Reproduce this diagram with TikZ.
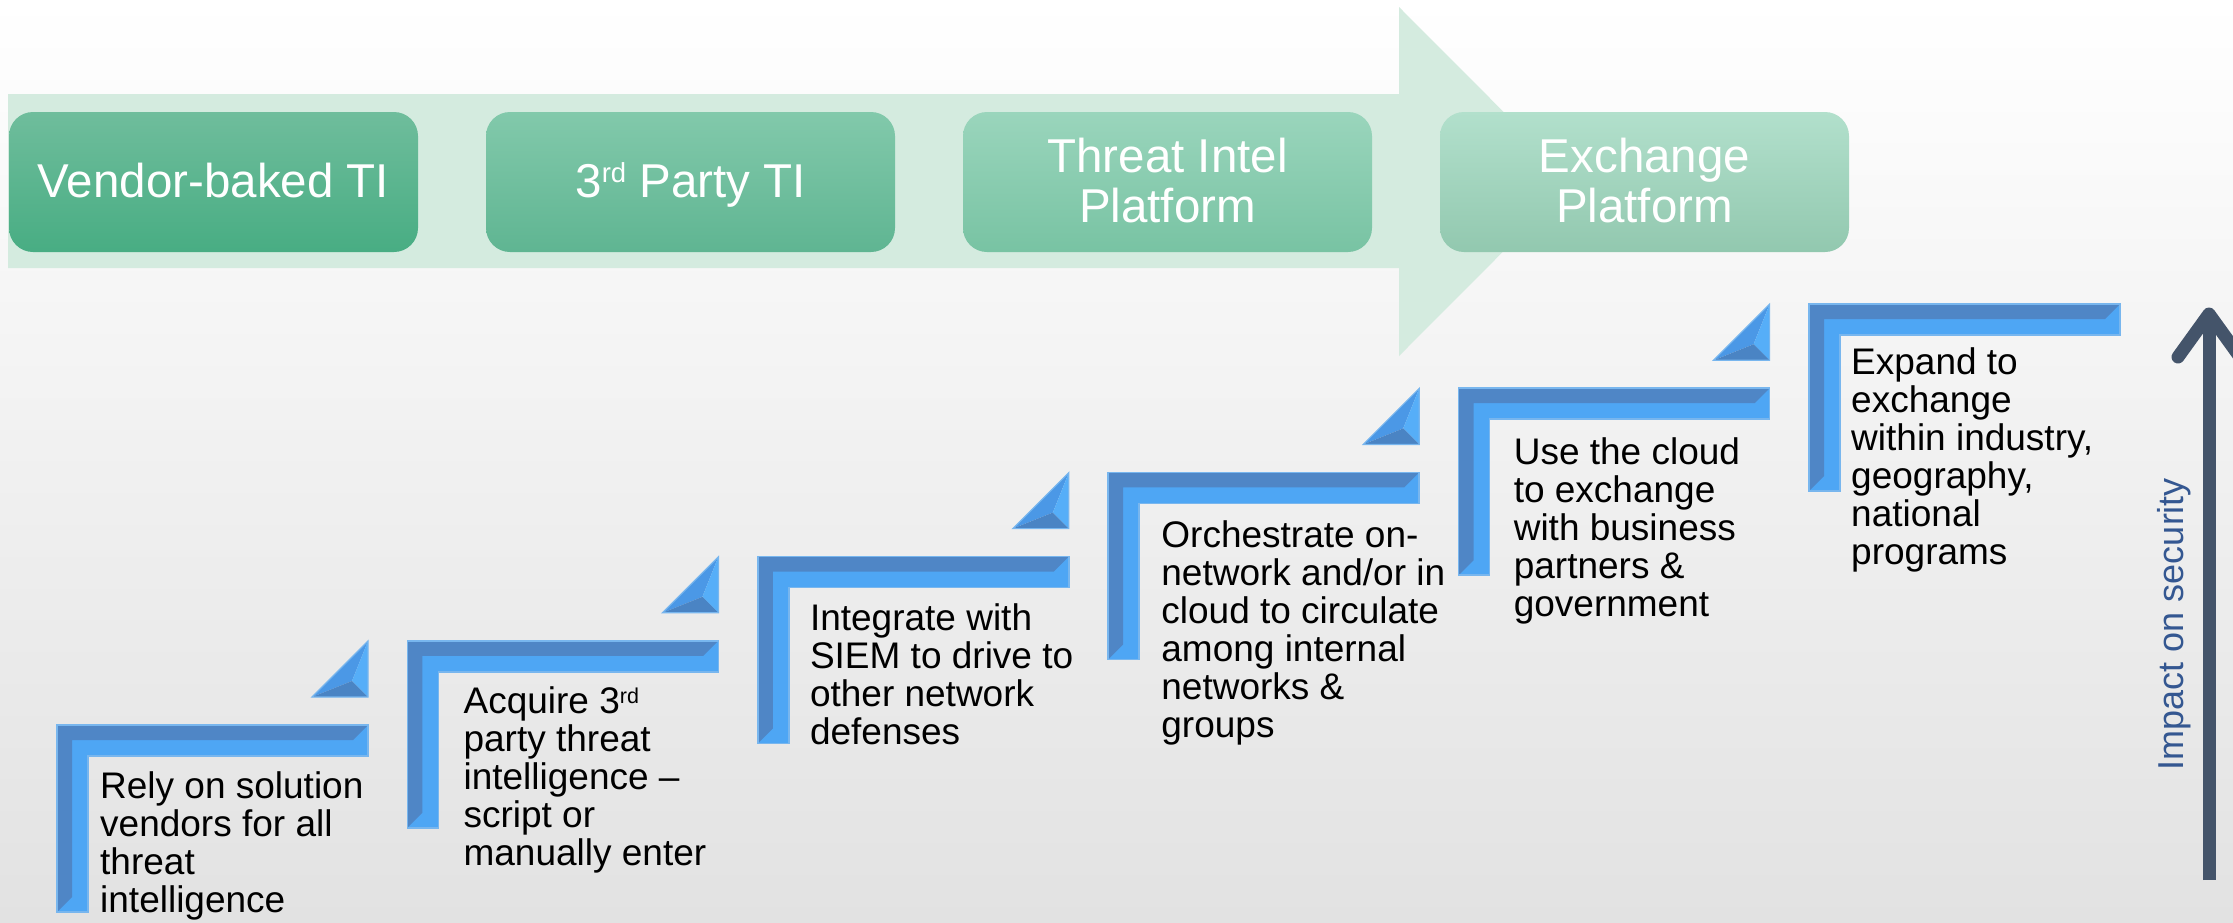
\documentclass[tikz,border=0pt]{standalone}
\usepackage{fontspec}
\setmainfont{Liberation Sans}
\definecolor{bgtop}{RGB}{255,255,255}
\definecolor{bgbot}{RGB}{226,226,226}
\definecolor{arrowfill}{RGB}{212,235,223}
\definecolor{b1top}{RGB}{111,189,156}
\definecolor{b1bot}{RGB}{72,173,131}
\definecolor{b2top}{RGB}{130,201,171}
\definecolor{b2bot}{RGB}{95,181,146}
\definecolor{b3top}{RGB}{154,213,188}
\definecolor{b3bot}{RGB}{120,195,163}
\definecolor{b4top}{RGB}{178,224,204}
\definecolor{b4bot}{RGB}{146,200,175}
\definecolor{Lbright}{RGB}{78,166,244}
\definecolor{Ldark}{RGB}{79,134,198}
\definecolor{Ledge}{RGB}{120,182,238}
\definecolor{tmid}{RGB}{75,152,230}
\definecolor{tbright}{RGB}{86,174,248}
\definecolor{tdark}{RGB}{74,132,196}
\definecolor{impcol}{RGB}{68,84,106}
\definecolor{imptext}{RGB}{52,87,145}
\tikzset{
  box/.style={rounded corners=24pt, minimum width=409pt, minimum height=140pt, inner sep=0pt},
  boxtext/.style={text=white, font=\fontsize{47.5}{50}\selectfont, align=center, anchor=base, inner sep=0pt},
  steptext/.style={text=black, font=\fontsize{37}{38}\selectfont, align=left, anchor=base west, inner sep=0pt},
  impactline/.style={draw=impcol, line width=13pt},
  stepL/.pic={
    \fill[Lbright] (0,0) -- (311,0) -- (311,31) -- (31,31) -- (31,187) -- (0,187) -- cycle;
    \fill[Ldark] (0,0) -- (311,0) -- (296,15) -- (15,15) -- (15,172) -- (0,187) -- cycle;
    \draw[Ledge, line width=1.5pt, line join=miter] (0,0) -- (311,0) -- (311,31) -- (31,31) -- (31,187) -- (0,187) -- cycle;
  },
  stepTri/.pic={
    \fill[tmid] (311,-84) -- (255,-28) -- (295,-44) -- cycle;
    \fill[tbright] (311,-84) -- (311,-28) -- (295,-44) -- cycle;
    \fill[tdark] (255,-28) -- (311,-28) -- (295,-44) -- cycle;
    \draw[Ledge, line width=1.2pt] (311,-84) -- (311,-28) -- (255,-28) -- cycle;
  },
}
\begin{document}
\begin{tikzpicture}[x=1pt, y=-1pt]
\useasboundingbox (0,0) rectangle (2233,922);
\shade[top color=bgtop, bottom color=bgbot] (0,0) rectangle (2233,922);
% big arrow
\fill[arrowfill] (8,94) -- (1399,94) -- (1399,7) -- (1573,181.5) -- (1399,356) -- (1399,268) -- (8,268) -- cycle;
% boxes
\node[box, top color=b1top, bottom color=b1bot] (b1) at (213.5,182) {};
\node[box, top color=b2top, bottom color=b2bot] (b2) at (690.5,182) {};
\node[box, top color=b3top, bottom color=b3bot] (b3) at (1167.5,182) {};
\node[box, top color=b4top, bottom color=b4bot] (b4) at (1644.5,182) {};
\node[boxtext] (b1t) at ([yshift=-15pt]b1.center) {Vendor-baked TI};
\node[boxtext] (b2t) at ([yshift=-15pt]b2.center) {3\raisebox{15pt}{\fontsize{27.5}{28}\selectfont rd} Party TI};
\node[boxtext] (b3t) at ([yshift=-40pt]b3.center) {Threat Intel\\Platform};
\node[boxtext] (b4t) at ([yshift=-40pt]b4.center) {Exchange\\Platform};
% steps
\foreach \i in {0,...,5} {
  \pic at ({57+350.4*\i},{725-84.2*\i}) {stepL};
}
\foreach \i in {0,...,4} {
  \pic at ({57+350.4*\i},{725-84.2*\i}) {stepTri};
}
\node[steptext] (s1) at (100,912) {Rely on solution\\vendors for all\\threat\\intelligence};
\node[steptext] (s2) at (463.4,865.8) {Acquire 3\raisebox{10pt}{\fontsize{21.5}{22}\selectfont rd}\\party threat\\intelligence –\\script or\\manually enter};
\node[steptext] (s3) at (809.8,744.6) {Integrate with\\SIEM to drive to\\other network\\defenses};
\node[steptext] (s4) at (1161.2,737.4) {Orchestrate on-\\network and/or in\\cloud to circulate\\among internal\\networks \&\\groups};
\node[steptext] (s5) at (1513.6,616.2) {Use the cloud\\to exchange\\with business\\partners \&\\government};
\node[steptext] (s6) at (1851,564) {Expand to\\exchange\\within industry,\\geography,\\national\\programs};
% impact arrow
\coordinate (impB) at (2209,880);
\coordinate (impT) at (2209,314);
\draw[impactline] (impB) -- (impT);
\draw[impactline, line cap=round, line join=round] (impT) ++(-31,43) -- (impT) -- ++(31,43);
\node[text=imptext, font=\fontsize{36}{38}\selectfont, rotate=90, anchor=base, inner sep=0pt] (imptxt) at (2183,624) {Impact on security};
\end{tikzpicture}
\end{document}
